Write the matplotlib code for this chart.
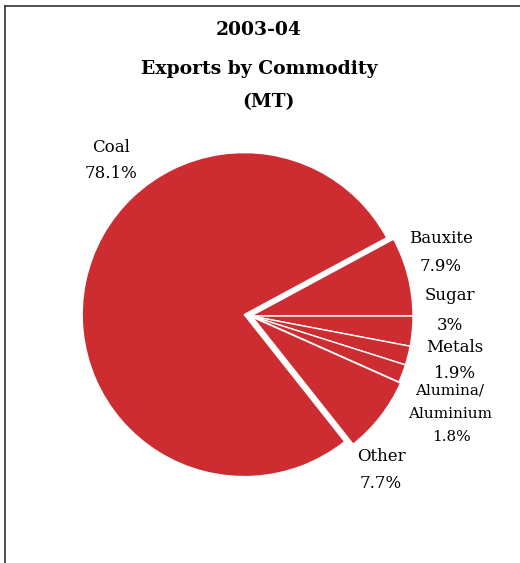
import matplotlib
matplotlib.use("Agg")
import matplotlib.pyplot as plt
from matplotlib.lines import Line2D

# data
commodities = ["Bauxite", "Sugar", "Metals", "Alumina/\nAluminium", "Other", "Coal"]
shares = [7.9, 3.0, 1.9, 1.8, 7.7, 78.1]
share_labels = ["7.9%", "3%", "1.9%", "1.8%", "7.7%", "78.1%"]
title_lines = ["2003-04", "Exports by Commodity", "(MT)"]

W, H = 520, 563
RED = "#cd2d31"
FONT = "DejaVu Serif"
R = 162

fig = plt.figure(figsize=(W / 100, H / 100), dpi=100)
ax = fig.add_axes([0, 0, 1, 1])

def Y(y):
	# pixel row -> data y
	return H - y

start = 360 * shares[0] / sum(shares)
# pie() offsets wedges by explode in data units, so scale by the radius
explode = [f * R for f in [0, 0, 0, 0, 0.012, 0.043]]
ax.pie(shares, colors=[RED] * len(shares), startangle=start, counterclock=False,
	explode=explode, center=(251, Y(316)), radius=R, frame=True,
	wedgeprops={"edgecolor": "white", "linewidth": 1.0})
ax.set_xlim(0, W)
ax.set_ylim(0, H)
ax.set_aspect("equal")
ax.axis("off")

# title
title_pos = [(259, 35), (259, 74), (268, 107)]
for txt, (x, y) in zip(title_lines, title_pos):
	ax.text(x, Y(y), txt, ha="center", va="baseline", fontsize=13.5,
		fontweight="bold", family=FONT)

# slice labels (name baseline, percent baseline, x centre)
name_pos = [(441, 243), (450, 300), (455, 352), (450, 394), (381, 461), (111, 152)]
pct_pos = [(441, 271), (450, 330), (455, 378), (451, 441), (381, 488), (111, 178)]
for name, pct, (nx, ny), (px, py) in zip(commodities, share_labels, name_pos, pct_pos):
	if "\n" in name:
		first, second = name.split("\n")
		ax.text(nx, Y(ny), first, ha="center", va="baseline", fontsize=11, family=FONT)
		ax.text(nx, Y(ny + 24), second, ha="center", va="baseline", fontsize=11, family=FONT)
		ax.text(px, Y(py), pct, ha="center", va="baseline", fontsize=11, family=FONT)
	else:
		ax.text(nx, Y(ny), name, ha="center", va="baseline", fontsize=12, family=FONT)
		ax.text(px, Y(py), pct, ha="center", va="baseline", fontsize=12, family=FONT)

# frame lines (left and top only)
fig.add_artist(Line2D([5 / W, 5 / W], [0, 1 - 6 / H], color="#333333", lw=1.2,
	transform=fig.transFigure))
fig.add_artist(Line2D([5 / W, 1], [1 - 6 / H, 1 - 6 / H], color="#333333", lw=1.2,
	transform=fig.transFigure))

plt.savefig("out.png", dpi=100)
plt.close()
